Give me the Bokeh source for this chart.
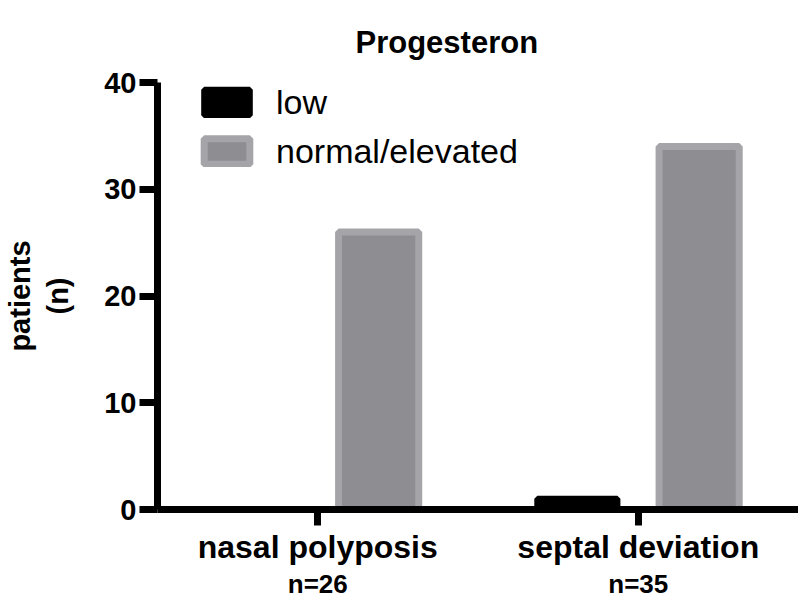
from bokeh.plotting import figure
from bokeh.models import ColumnDataSource, FactorRange, CategoricalAxis, Legend, LegendItem, Range1d
from bokeh.transform import dodge
from bokeh.embed import file_html
from bokeh.resources import INLINE

categories = ["nasal polyposis", "septal deviation"]
n_labels = ["n=26", "n=35"]
low = [0, 1]
normal_elevated = [26, 34]
y_ticks = [0, 10, 20, 30, 40]

FONT = "Liberation Sans"

source = ColumnDataSource(data=dict(cat=categories, low=low, normal=normal_elevated))

p = figure(x_range=FactorRange(*categories, range_padding=0), y_range=Range1d(0, 40),
           width=798, height=601, output_backend="svg", toolbar_location=None,
           min_border_left=156, min_border_right=0, min_border_top=80, min_border_bottom=91)
p.extra_x_ranges = {"n": FactorRange(*n_labels, range_padding=0)}

r_low = p.vbar(x=dodge("cat", -0.19, range=p.x_range), top="low", width=0.25, source=source,
               fill_color="black", line_color="black", line_width=6)
r_norm = p.vbar(x=dodge("cat", 0.19, range=p.x_range), top="normal", width=0.25, source=source,
                fill_color="#8e8d92", line_color="#a5a4a8", line_width=7)

p.title.text = "Progesteron"
p.title.text_font = FONT
p.title.text_font_size = "31px"
p.title.text_font_style = "bold"
p.title.align = "left"
p.title.offset = 198
p.title.standoff = 45
p.title.text_color = "black"

p.xgrid.visible = False
p.ygrid.visible = False
p.outline_line_color = None

# y axis
p.yaxis.ticker = y_ticks
p.yaxis.axis_label = "patients\n(n)"
p.yaxis.axis_label_text_font = FONT
p.yaxis.axis_label_text_font_size = "29px"
p.yaxis.axis_label_text_font_style = "bold"
p.yaxis.axis_label_text_color = "black"
p.yaxis.axis_label_standoff = 27
p.yaxis.major_label_text_font = FONT
p.yaxis.major_label_text_font_size = "29px"
p.yaxis.major_label_text_font_style = "bold"
p.yaxis.major_label_text_color = "black"
p.yaxis.axis_line_width = 7
p.yaxis.axis_line_color = "black"
p.yaxis.major_tick_line_width = 7
p.yaxis.major_tick_out = 18
p.yaxis.major_tick_in = 0
p.yaxis.minor_tick_line_color = None
p.yaxis.major_label_standoff = 3

# x axis
p.xaxis.axis_line_width = 7
p.xaxis.axis_line_color = "black"
p.xaxis.major_tick_line_width = 7
p.xaxis.major_tick_out = 16
p.xaxis.major_tick_in = 0
p.xaxis.major_label_text_font = FONT
p.xaxis.major_label_text_font_size = "32px"
p.xaxis.major_label_text_font_style = "bold"
p.xaxis.major_label_text_color = "black"
p.xaxis.major_label_standoff = 3

ax2 = CategoricalAxis(x_range_name="n")
ax2.axis_line_color = None
ax2.major_tick_line_color = None
ax2.major_tick_out = 0
ax2.major_tick_in = 0
ax2.major_label_text_font = FONT
ax2.major_label_text_font_size = "26px"
ax2.major_label_text_font_style = "bold"
ax2.major_label_text_color = "black"
ax2.major_label_standoff = 1
p.add_layout(ax2, "below")

legend = Legend(items=[LegendItem(label="low", renderers=[r_low]),
                       LegendItem(label="normal/elevated", renderers=[r_norm])],
                location=(41, 338))
legend.label_text_font = FONT
legend.label_text_font_size = "34px"
legend.label_text_color = "black"
legend.glyph_width = 57
legend.glyph_height = 32
legend.label_height = 40
legend.spacing = 9
legend.padding = 0
legend.margin = 0
legend.label_standoff = 21
legend.border_line_color = None
legend.background_fill_alpha = 0
p.add_layout(legend)

open("out.html", "w").write(file_html(p, INLINE))
